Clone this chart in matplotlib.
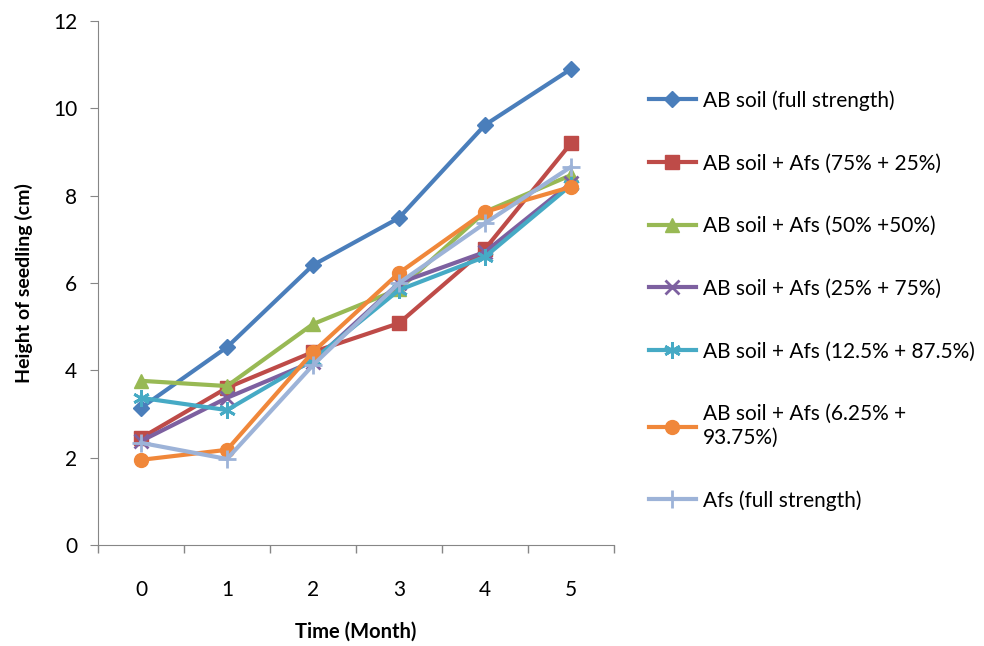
import matplotlib.pyplot as plt
import numpy as np

plt.rcParams['font.family'] = ['Lato', 'DejaVu Sans']

months = ['0', '1', '2', '3', '4', '5']
labels = ['AB soil (full strength)',
          'AB soil + Afs (75% + 25%)',
          'AB soil + Afs (50% +50%)',
          'AB soil + Afs (25% + 75%)',
          'AB soil + Afs (12.5% + 87.5%)',
          'AB soil + Afs (6.25% +\n93.75%)',
          'Afs (full strength)']

ab_full = [3.14, 4.53, 6.41, 7.49, 9.62, 10.90]
ab75 = [2.45, 3.60, 4.42, 5.08, 6.78, 9.20]
ab50 = [3.76, 3.64, 5.06, 5.86, 7.63, 8.47]
ab25 = [2.38, 3.37, 4.20, 6.00, 6.71, 8.29]
ab12 = [3.37, 3.09, 4.24, 5.84, 6.60, 8.24]
ab6 = [1.95, 2.18, 4.42, 6.23, 7.63, 8.20]
afs_full = [2.34, 1.97, 4.12, 6.00, 7.37, 8.66]

series = [ab_full, ab75, ab50, ab25, ab12, ab6, afs_full]
colors = ['#4A7EBB', '#BE4B48', '#98B954', '#7D60A0', '#46AAC5', '#F0873A', '#9DB3D8']
asterisk = (6, 2, 0)
markers = ['D', 's', '^', 'x', asterisk, 'o', '+']
msizes = [8, 10, 10, 10, 12, 10, 13]

fig = plt.figure(figsize=(9.84, 6.46), dpi=100)
ax = fig.add_axes([98 / 984, 1 - 545 / 646, (614 - 98) / 984, (545 - 21) / 646])

x = np.arange(len(months))
for vals, lab, c, m, ms in zip(series, labels, colors, markers, msizes):
    ax.plot(x, vals, color=c, lw=3, marker=m, ms=ms, mew=2 if m in ('x', '+', asterisk) else 1,
            mec=c, mfc=c, label=lab, solid_joinstyle='round')

ax.set_xlim(-0.5, 5.5)
ax.set_ylim(0, 12)
ax.set_yticks(range(0, 13, 2))
ax.set_xticks(x)
ax.set_xticklabels(months)
ax.set_xticks(np.arange(-0.5, 6, 1), minor=True)
ax.tick_params(axis='x', which='major', length=0, labelsize=15, pad=25)
ax.tick_params(axis='x', which='minor', length=6, color='#868686', width=1)
ax.tick_params(axis='y', length=6, color='#868686', labelsize=15, pad=9)
for s in ['top', 'right']:
    ax.spines[s].set_visible(False)
for s in ['left', 'bottom']:
    ax.spines[s].set_color('#868686')

ax.set_xlabel('Time (Month)', fontsize=14.5, fontweight='bold', labelpad=16)
ax.set_ylabel('Height of seedling (cm)', fontsize=14, fontweight='bold', labelpad=14)

fig.legend(loc='center left', bbox_to_anchor=(0.64, 0.535), frameon=False,
           fontsize=15, labelspacing=2.05, handlelength=2.3, handletextpad=0.3)

fig.savefig('out.png', dpi=100)
